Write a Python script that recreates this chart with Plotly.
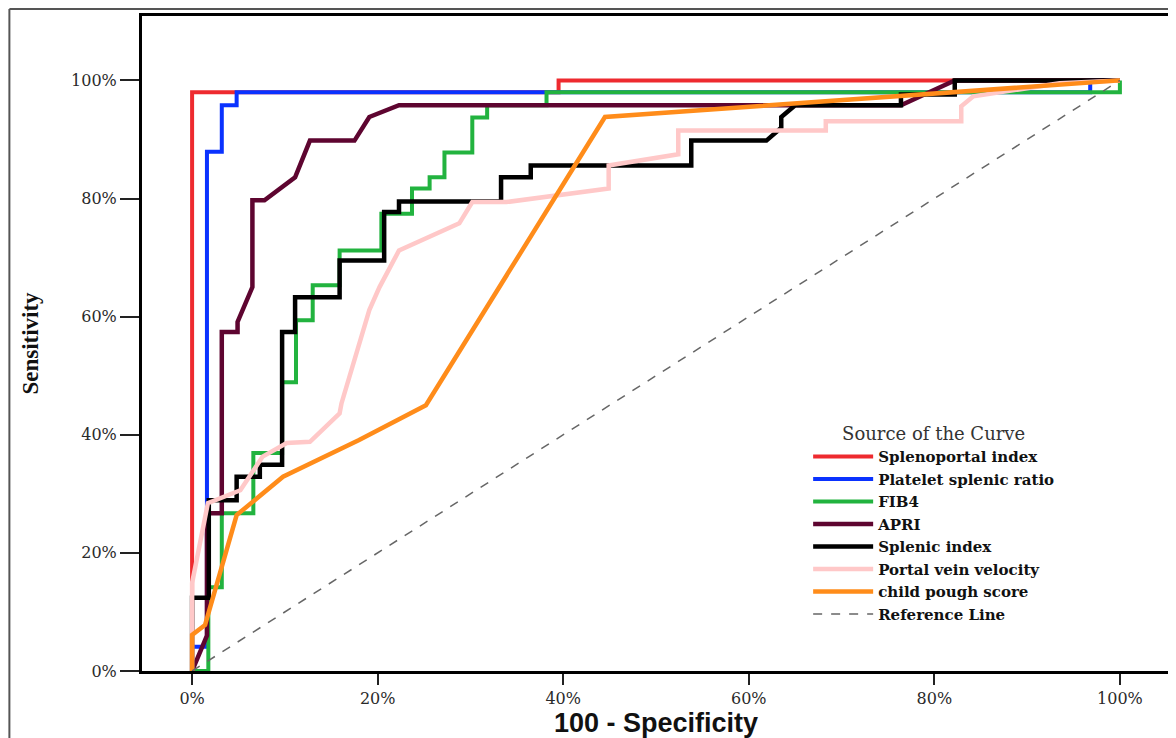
import plotly.graph_objects as go

# ---- data (percent) ----
series_names = ["Splenoportal index", "Platelet splenic ratio", "FIB4", "APRI",
                "Splenic index", "Portal vein velocity", "child pough score"]

spi_x = [0, 0, 39.5, 39.5, 100]
spi_y = [0, 98, 98, 100, 100]

psr_x = [0, 0, 1.6, 1.6, 3.2, 3.2, 4.8, 4.8, 96.8, 96.8, 100]
psr_y = [0, 4.1, 4.1, 87.9, 87.9, 95.8, 95.8, 98, 98, 100, 100]

fib4_x = [0, 1.75, 1.75, 3.2, 3.2, 6.6, 6.6, 9.7, 9.7, 11.2, 11.2, 13.0, 13.0, 15.9, 15.9,
          20.4, 20.4, 23.7, 23.7, 25.6, 25.6, 27.2, 27.2, 30.2, 30.2, 31.8, 31.8, 38.2, 38.2, 100, 100]
fib4_y = [0, 0, 14.2, 14.2, 26.7, 26.7, 36.9, 36.9, 48.9, 48.9, 59.4, 59.4, 65.3, 65.3, 71.2,
          71.2, 77.4, 77.4, 81.7, 81.7, 83.6, 83.6, 87.8, 87.8, 93.7, 93.7, 95.8, 95.8, 98, 98, 100]

apri_x = [0, 1.6, 1.6, 3.2, 3.2, 4.9, 4.9, 6.5, 6.5, 7.8, 11.1, 12.7, 17.5, 19.1, 22.3, 76.4, 82.2, 100]
apri_y = [0, 6, 26.7, 26.7, 57.4, 57.4, 59.1, 65.0, 79.7, 79.7, 83.6, 89.8, 89.8, 93.8, 95.8, 95.8, 100, 100]

si_x = [0, 0, 1.8, 1.8, 4.8, 4.8, 7.3, 7.3, 9.7, 9.7, 11.1, 11.1, 15.9, 15.9, 20.7, 20.7, 22.3, 22.3,
        33.3, 33.3, 36.5, 36.5, 53.8, 53.8, 61.9, 63.5, 63.5, 65.0, 76.4, 76.4, 82.2, 82.2, 100]
si_y = [0, 12.4, 12.4, 28.9, 28.9, 32.9, 32.9, 34.9, 34.9, 57.4, 57.4, 63.3, 63.3, 69.5, 69.5, 77.7,
        77.7, 79.5, 79.5, 83.6, 83.6, 85.6, 85.6, 89.8, 89.8, 92.0, 93.8, 95.8, 95.8, 97.6, 97.6, 100, 100]

pvv_x = [0, 0, 1.7, 5.2, 7.6, 10.2, 12.7, 15.9, 16.1, 19.1, 20.2, 22.3, 28.8, 30.2, 33.9, 44.9, 44.9,
         52.4, 52.4, 68.3, 68.3, 82.9, 82.9, 84.2, 93.5, 100]
pvv_y = [0, 14.9, 28.4, 30.6, 36.3, 38.6, 38.8, 43.6, 45.3, 61.1, 65.0, 71.2, 75.8, 79.4, 79.4, 81.7, 85.6,
         87.5, 91.5, 91.5, 93.1, 93.1, 95.6, 97.3, 99.5, 100]

cps_x = [0, 0, 1.4, 4.8, 9.8, 18.0, 25.2, 44.5, 100]
cps_y = [0, 6.1, 7.8, 26.4, 32.9, 39.1, 45.0, 93.8, 100]

ref_x = [0, 100]
ref_y = [0, 100]

tick_vals = [0, 20, 40, 60, 80, 100]
tick_text = ["0%", "20%", "40%", "60%", "80%", "100%"]

# ---- styles ----
colors = ["#EE2A2F", "#0A32FF", "#22B33F", "#5E0530", "#000000", "#FFC8C8", "#FF8C1A"]
widths = [4, 4, 4, 4.5, 4.5, 4.5, 4.5]

xs = [spi_x, psr_x, fib4_x, apri_x, si_x, pvv_x, cps_x]
ys = [spi_y, psr_y, fib4_y, apri_y, si_y, pvv_y, cps_y]

fig = go.Figure()
for name, x, y, c, w in zip(series_names, xs, ys, colors, widths):
    fig.add_trace(go.Scatter(x=x, y=y, mode="lines", name=name,
                             line=dict(color=c, width=w), hoverinfo="skip"))
fig.add_trace(go.Scatter(x=ref_x, y=ref_y, mode="lines", name="Reference Line",
                         line=dict(color="#666666", width=1.5, dash="dash"), hoverinfo="skip"))

tick_font = dict(family="DejaVu Serif", size=16, color="#2a2a2a")

# page body has an 8px margin, so the figure is 8px smaller and margins shifted
fig.update_layout(
    width=1168, height=730,
    margin=dict(l=134, r=3, t=8, b=67),
    paper_bgcolor="white", plot_bgcolor="white",
    showlegend=True,
    legend=dict(
        x=0.648, y=0.388, xanchor="left", yanchor="top",
        bgcolor="rgba(0,0,0,0)", borderwidth=0, itemwidth=60,
        font=dict(family="DejaVu Serif", size=15, color="#111111", weight="bold"),
        title=dict(text="Source of the Curve", side="top center",
                   font=dict(family="DejaVu Serif", size=18, color="#333333", weight="normal")),
        tracegroupgap=0,
    ),
    shapes=[
        dict(type="line", xref="paper", yref="paper", x0=-0.129, x1=1.01, y0=1.0107, y1=1.0107,
             line=dict(color="#555555", width=2)),
        dict(type="line", xref="paper", yref="paper", x0=-0.129, x1=-0.129, y0=1.0107, y1=-0.11,
             line=dict(color="#555555", width=2)),
    ],
)

fig.update_xaxes(
    range=[-5.4, 105.4], showgrid=False, zeroline=False,
    showline=True, linewidth=3, linecolor="black", mirror=True,
    ticks="outside", ticklen=11, tickwidth=2, tickcolor="#222222",
    tickvals=tick_vals, ticktext=tick_text, tickfont=tick_font,
    title=dict(text="100 - Specificity", standoff=8,
               font=dict(family="Liberation Sans", size=27, color="#111111", weight="bold")),
)
fig.update_yaxes(
    range=[0, 110.9], showgrid=False, zeroline=False,
    showline=True, linewidth=3, linecolor="black", mirror=True,
    ticks="outside", ticklen=19, tickwidth=2, tickcolor="#222222",
    tickvals=tick_vals, ticktext=tick_text, tickfont=tick_font,
    title=dict(text="Sensitivity", standoff=26,
               font=dict(family="Liberation Serif", size=23, color="#111111", weight="bold")),
)

fig.write_html("out.html")
